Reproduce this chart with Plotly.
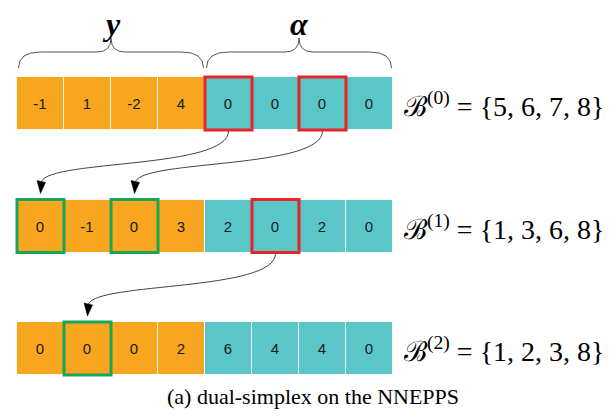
import plotly.graph_objects as go

# ==========================================================
# Data
# ==========================================================

ROW_0 = [-1, 1, -2, 4, 0, 0, 0, 0]
ROW_1 = [0, -1, 0, 3, 2, 0, 2, 0]
ROW_2 = [0, 0, 0, 2, 6, 4, 4, 0]
ROWS = [ROW_0, ROW_1, ROW_2]

N_Y = 4          # first entries belong to y, the rest to alpha
BASIS = [[5, 6, 7, 8], [1, 3, 6, 8], [1, 2, 3, 8]]

LEAVING = [[4, 6], [5], []]        # red boxes (0-based column per row)
ENTERING = [[], [0, 2], [1]]       # green boxes

# pivot moves: (from_row, from_col, to_row, to_col)
MOVES = [(0, 4, 1, 0), (0, 6, 1, 2), (1, 5, 2, 1)]

GROUP_LABELS = ["<b><i>y</i></b>", "<b><i>α</i></b>"]
CAPTION = "(a) dual-simplex on the NNEPPS"

# ==========================================================
# Style / layout
# ==========================================================

# the page body keeps its default 8px margin, so the figure is
# drawn 8px smaller and every position is shifted by that much
PAGE_PAD = 8
W, H = 613 - PAGE_PAD, 417 - PAGE_PAD
CELL_PX = 47.0
ROW_PX = 122.5
X0_PX, Y0_PX = 17.0 - PAGE_PAD, 77.0 - PAGE_PAD
ROW_H = 53.0 / ROW_PX

ORANGE = "#f8a51f"
TEAL = "#5bc6c8"
RED = "#e8232b"
GREEN = "#17a558"
INK = "#444444"


def ux(px):
    return px / CELL_PX


def uy(px):
    return px / ROW_PX


fig = go.Figure()

# ==========================================================
# Cells
# ==========================================================

for r, vals in enumerate(ROWS):

    n = len(vals)

    fig.add_trace(go.Bar(
        x=[i + 0.5 for i in range(n)],
        y=[ROW_H] * n,
        base=[r] * n,
        width=1,
        marker=dict(
            color=[ORANGE if i < N_Y else TEAL for i in range(n)],
            line=dict(color="rgba(255,255,255,0.85)", width=1)
        ),
        text=[str(v) for v in vals],
        textposition="inside",
        insidetextanchor="middle",
        textangle=0,
        insidetextfont=dict(family="Liberation Sans, Arial", size=15, color="#1a1a1a"),
        hoverinfo="skip",
        showlegend=False
    ))

# ==========================================================
# Highlight boxes
# ==========================================================

for r in range(len(ROWS)):
    for cols, colour in ((LEAVING[r], RED), (ENTERING[r], GREEN)):
        for c in cols:
            fig.add_shape(
                type="rect", xref="x", yref="y",
                x0=c, x1=c + 1, y0=r, y1=r + ROW_H,
                line=dict(color=colour, width=3),
                fillcolor="rgba(0,0,0,0)"
            )

# ==========================================================
# Curved arrows
# ==========================================================

for r0, c0, r1, c1 in MOVES:

    sx, sy = c0 + 0.5, r0 + ROW_H + uy(1)
    tx, tip = c1 + 0.5, r1 - uy(6)
    ey = tip - uy(12)

    path = (f"M {sx},{sy} C {sx},{sy + uy(38)} {tx + ux(10)},{ey - uy(22)} "
            f"{tx + ux(1)},{ey}")
    fig.add_shape(type="path", xref="x", yref="y", path=path,
                  line=dict(color=INK, width=1))

    head = (f"M {tx - ux(3.5)},{ey - uy(1)} L {tx + ux(5)},{ey + uy(1)} "
            f"L {tx},{tip} Z")
    fig.add_shape(type="path", xref="x", yref="y", path=head,
                  fillcolor="black", line=dict(color="black", width=0.5))

# ==========================================================
# Braces + group labels
# ==========================================================

groups = [(0, N_Y), (N_Y, len(ROW_0))]
y_end, y_bar, y_tip = -uy(9), -uy(25), -uy(39)
r_end, r_mid = ux(22), ux(14)

for (a, b), label in zip(groups, GROUP_LABELS):

    x0 = a + ux(1.5)
    x1 = b - ux(1.5)
    xm = (a + b) / 2

    path = (f"M {x0},{y_end} Q {x0},{y_bar} {x0 + r_end},{y_bar} "
            f"L {xm - r_mid},{y_bar} Q {xm},{y_bar} {xm},{y_tip} "
            f"Q {xm},{y_bar} {xm + r_mid},{y_bar} "
            f"L {x1 - r_end},{y_bar} Q {x1},{y_bar} {x1},{y_end}")
    fig.add_shape(type="path", xref="x", yref="y", path=path,
                  line=dict(color="#555555", width=1))

    fig.add_annotation(
        x=xm, y=-uy(53), text=label, showarrow=False,
        xanchor="center", yanchor="middle",
        font=dict(family="Liberation Serif, DejaVu Serif", size=32, color="black")
    )

# ==========================================================
# Basis labels
# ==========================================================

for r, basis in enumerate(BASIS):

    txt = f"ℬ<sup>({r})</sup> = {{{', '.join(str(b) for b in basis)}}}"

    fig.add_annotation(
        x=len(ROW_0) + ux(9), y=r + ROW_H / 2 + uy(1),
        text=txt, showarrow=False,
        xanchor="left", yanchor="middle",
        font=dict(family="Liberation Serif, DejaVu Serif", size=28, color="black")
    )

# ==========================================================
# Caption
# ==========================================================

fig.add_annotation(
    x=(313 - PAGE_PAD) / W, y=1 - (396 - PAGE_PAD) / H,
    xref="paper", yref="paper",
    text=CAPTION, showarrow=False,
    xanchor="center", yanchor="middle",
    font=dict(family="Liberation Serif, Times New Roman", size=22, color="black")
)

# ==========================================================
# Layout
# ==========================================================

fig.update_layout(
    width=W, height=H,
    margin=dict(l=0, r=0, t=0, b=0),
    paper_bgcolor="white",
    plot_bgcolor="white",
    barmode="overlay",
    bargap=0,
    xaxis=dict(range=[-X0_PX / CELL_PX, (W - X0_PX) / CELL_PX],
               visible=False, fixedrange=True),
    yaxis=dict(range=[(H - Y0_PX) / ROW_PX, -Y0_PX / ROW_PX],
               visible=False, fixedrange=True)
)

fig.write_html("out.html")
